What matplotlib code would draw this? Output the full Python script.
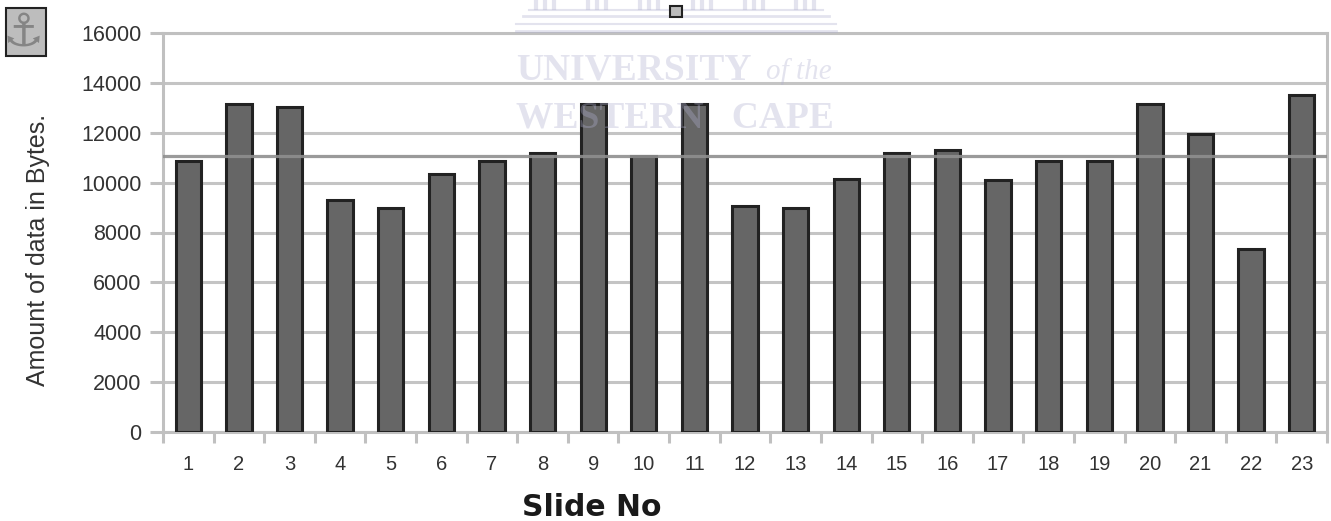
import numpy as np
import matplotlib
matplotlib.use("Agg")
import matplotlib.pyplot as plt
from matplotlib.patches import Rectangle

slides = list(range(1, 24))
bytes_per_slide = [10850, 13150, 13050, 9300, 9000, 10350, 10850, 11200, 13150, 11050, 13150,
                   9050, 9000, 10150, 11200, 11300, 10100, 10850, 10850, 13150, 11950, 7350, 13500]
average_bytes = 11050
y_ticks = list(range(0, 16001, 2000))

W, H = 1331, 521
plt.rcParams['font.family'] = ['Liberation Sans', 'DejaVu Sans']

fig = plt.figure(figsize=(W / 100, H / 100), dpi=100)
ax = fig.add_axes([163 / W, 1 - 432 / H, (1327 - 163) / W, (432 - 33) / H])

grid_col = '#c0c0c0'
# pixel helper for the stuff sitting outside the axes
def px(x, y):
    return x / W, 1 - y / H

# watermark, see-through so it still shows on the bars
wm = '#b0b0d0'
wm_a = 0.35
for x0, x1, y, lw in [(516, 836, 31, 2), (516, 836, 24, 1.5), (523, 829, 16, 2), (529, 823, 10, 1.5)]:
    fig.add_artist(plt.Line2D([x0 / W, x1 / W], [1 - y / H, 1 - y / H], color=wm, alpha=wm_a, lw=lw, zorder=5))
for cx in [545, 597, 649, 702, 754, 805]:
    for dx in [-9, 0, 9]:
        fig.add_artist(plt.Line2D([(cx + dx) / W] * 2, [1 - 0 / H, 1 - 8 / H], color=wm, alpha=wm_a, lw=3, zorder=5))
fig.text(*px(516, 79), 'UNIVERSITY', family='Liberation Serif', fontsize=27, fontweight='bold',
         color=wm, alpha=wm_a, va='baseline', ha='left', zorder=5)
fig.text(*px(766, 79), 'of the', family='Liberation Serif', fontsize=21, style='italic',
         color=wm, alpha=wm_a, va='baseline', ha='left', zorder=5)
fig.text(*px(516, 127), 'WESTERN   CAPE', family='Liberation Serif', fontsize=27, fontweight='bold',
         color=wm, alpha=wm_a, va='baseline', ha='left', zorder=5)

ax.patch.set_alpha(0)
x = np.arange(len(slides))
ax.bar(x, bytes_per_slide, width=0.5, color='#666666', edgecolor='#222222', linewidth=2.2, zorder=3)
ax.axhline(average_bytes, color='#8f8f8f', lw=2.3, alpha=0.9, zorder=4)

ax.set_xlim(-0.5, len(slides) - 0.5)
ax.set_ylim(0, 16000)
ax.set_yticks(y_ticks)
ax.set_xticks(x)
ax.set_xticklabels(slides)
ax.set_xticks(np.arange(-0.5, len(slides)), minor=True)
ax.yaxis.grid(True, color='#c4c4c4', lw=2.2, zorder=1)
ax.set_axisbelow(True)
for s in ax.spines.values():
    s.set_color(grid_col)
    s.set_linewidth(2.2)
ax.tick_params(axis='y', length=9.4, width=2.2, color=grid_col, labelsize=15.5, labelcolor='#333333', pad=6)
ax.tick_params(axis='x', which='major', length=0, labelsize=14.5, labelcolor='#333333', pad=16.5)
ax.tick_params(axis='x', which='minor', length=8, width=2.2, color=grid_col)

fig.text(*px(38, 250), 'Amount of data in Bytes.', rotation=90, fontsize=18, color='#333333',
         ha='center', va='center')
fig.text(*px(592, 507), 'Slide No', family='DejaVu Sans', fontsize=21.5, fontweight='bold',
         color='#1a1a1a', ha='center', va='center')

# anchor button
fig.add_artist(Rectangle(px(6, 56), 40 / W, 48 / H, transform=fig.transFigure, facecolor='#bdbdbd',
                         edgecolor='#222222', lw=1.5))
fig.text(*px(23, 33), '\u2693', family='DejaVu Sans', fontsize=33, color='#858585', ha='center', va='center')

# little selection handle
fig.add_artist(Rectangle(px(670, 17), 12 / W, 11 / H, transform=fig.transFigure, facecolor='#bbbbbb',
                         edgecolor='#222222', lw=1.5, zorder=6))

fig.savefig('out.png', dpi=100)
